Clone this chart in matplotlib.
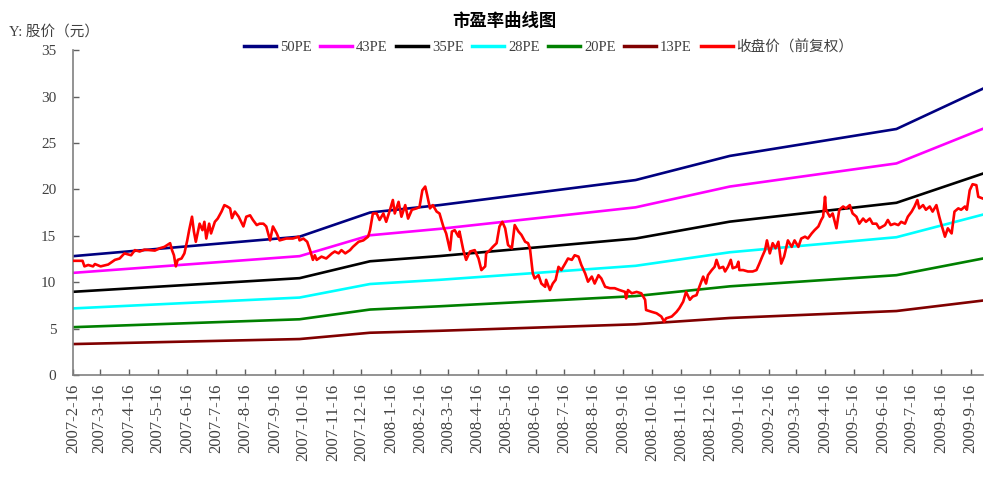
import matplotlib
matplotlib.use('Agg')
import matplotlib.pyplot as plt
import pandas as pd

# ---------------- data ----------------
start_date = '2007-02-16'

# closing price (forward adjusted): day offset from start_date, value
price_day = [0, 10, 12, 16, 21, 23, 29, 37, 44, 49, 54, 61, 65, 70, 75, 86, 91, 96, 102, 104,
             106, 108, 110, 114, 117, 120, 122, 125, 127, 129, 133, 136, 138, 140, 143, 145, 149, 152, 156, 159,
             162, 165, 167, 170, 174, 179, 182, 186, 189, 193, 196, 200, 203, 207, 210, 214, 217, 224, 231, 237,
             238, 242, 246, 249, 252, 254, 256, 261, 266, 272, 275, 279, 282, 286, 291, 294, 300, 305, 310, 312,
             315, 319, 322, 326, 329, 333, 336, 338, 342, 345, 349, 352, 356, 361, 364, 367, 370, 372, 375, 378,
             382, 385, 389, 392, 396, 398, 401, 405, 406, 410, 413, 417, 422, 426, 429, 433, 434, 438, 441, 445,
             448, 451, 454, 457, 461, 464, 468, 471, 475, 478, 480, 483, 485, 489, 492, 496, 497, 501, 504, 507,
             510, 513, 517, 520, 524, 527, 531, 534, 538, 541, 545, 548, 552, 555, 559, 564, 569, 574, 580, 581,
             583, 587, 592, 597, 601, 602, 608, 613, 618, 621, 623, 629, 634, 637, 641, 644, 648, 651, 655, 658,
             662, 665, 667, 671, 674, 676, 679, 683, 685, 688, 691, 693, 697, 699, 700, 704, 709, 714, 718, 721,
             724, 727, 729, 732, 735, 738, 741, 744, 747, 751, 755, 758, 762, 765, 769, 772, 776, 779, 783, 786,
             788, 790, 791, 795, 798, 802, 805, 809, 812, 816, 819, 823, 826, 830, 833, 837, 840, 844, 847, 853,
             856, 859, 863, 867, 870, 874, 877, 881, 884, 887, 889, 893, 896, 900, 903, 907, 910, 912, 916, 919,
             923, 926, 930, 933, 937, 939, 942, 945, 949, 951, 956]
price_close = [12.3, 12.3, 11.7, 11.85, 11.7, 11.95, 11.7, 11.9, 12.4, 12.55, 13.1, 12.9, 13.45, 13.3, 13.5, 13.4, 13.65, 13.8, 14.2, 13.45,
               12.9, 11.7, 12.4, 12.55, 13.1, 14.5, 15.6, 17.05, 15.45, 14.35, 16.3, 15.6, 16.5, 14.7, 16.3, 15.25, 16.5, 16.85, 17.6, 18.3,
               18.15, 17.95, 16.9, 17.6, 17.05, 16.0, 17.05, 17.2, 16.7, 16.15, 16.3, 16.3, 16.0, 14.5, 16.0, 15.25, 14.5, 14.7, 14.7, 14.9,
               14.5, 14.7, 14.35, 13.45, 12.4, 12.9, 12.4, 12.75, 12.55, 13.1, 13.3, 13.1, 13.45, 13.1, 13.45, 13.8, 14.35, 14.5, 14.9, 15.6,
               17.4, 17.4, 16.7, 17.4, 16.5, 17.8, 18.85, 17.4, 18.65, 17.05, 18.3, 16.85, 17.8, 17.95, 18.1, 19.9, 20.3, 19.4, 17.95, 18.3,
               17.6, 17.4, 16.0, 15.25, 13.45, 15.45, 15.6, 14.9, 15.45, 13.45, 12.4, 13.3, 13.45, 12.55, 11.3, 11.7, 13.1, 13.45, 13.8, 14.2,
               16.0, 16.5, 15.8, 14.0, 13.65, 16.15, 15.45, 15.1, 14.35, 14.2, 13.65, 10.95, 10.4, 10.75, 9.85, 9.5, 10.25, 9.15, 9.85, 10.25,
               11.65, 11.3, 12.0, 12.55, 12.4, 12.9, 12.75, 11.85, 10.95, 10.05, 10.6, 9.85, 10.75, 10.4, 9.5, 9.35, 9.35, 9.15, 8.95, 8.25,
               9.15, 8.8, 8.95, 8.8, 8.1, 7.0, 6.8, 6.65, 6.3, 5.75, 6.1, 6.3, 6.8, 7.2, 7.9, 8.95, 8.1, 8.45, 8.6, 9.5,
               10.6, 9.85, 10.75, 11.3, 11.65, 12.4, 11.5, 11.65, 11.15, 11.65, 12.4, 11.5, 11.65, 12.2, 11.3, 11.3, 11.15, 11.15, 11.3, 12.0,
               12.75, 13.45, 14.5, 13.1, 14.2, 13.65, 14.35, 12.0, 12.75, 14.5, 13.8, 14.5, 13.8, 14.7, 14.9, 14.7, 15.25, 15.6, 16.0, 16.7,
               17.05, 19.2, 17.8, 17.05, 17.4, 15.8, 17.8, 18.15, 17.95, 18.3, 17.4, 17.05, 16.3, 16.85, 16.5, 16.85, 16.3, 16.3, 15.8, 16.15,
               16.7, 16.15, 16.3, 16.15, 16.5, 16.3, 17.05, 17.6, 18.15, 18.85, 17.95, 18.3, 17.8, 18.15, 17.6, 18.3, 17.05, 16.3, 14.9, 15.8,
               15.25, 17.6, 17.95, 17.8, 18.15, 17.8, 19.9, 20.55, 20.45, 19.2, 19.0]

# PE band lines: break-point dates and values
pe_dates = ['2007-02-16', '2007-10-12', '2007-12-25', '2008-03-07',
            '2008-09-29', '2009-01-06', '2009-06-30', '2009-09-29']
pe50 = [12.8, 14.9, 17.5, 18.3, 21.0, 23.6, 26.5, 30.85]
pe43 = [11.0, 12.8, 15.05, 15.74, 18.06, 20.3, 22.79, 26.53]
pe35 = [8.96, 10.43, 12.25, 12.81, 14.7, 16.52, 18.55, 21.7]
pe28 = [7.17, 8.34, 9.8, 10.25, 11.76, 13.22, 14.84, 17.28]
pe20 = [5.15, 6.0, 7.05, 7.4, 8.5, 9.55, 10.75, 12.55]
pe13 = [3.33, 3.87, 4.55, 4.76, 5.46, 6.14, 6.89, 8.02]

series_names = ['50PE', '43PE', '35PE', '28PE', '20PE', '13PE', '收盘价（前复权）']
series_colors = ['#000080', '#FF00FF', '#000000', '#00FFFF', '#008000', '#800000', '#FF0000']

tick_dates = pd.date_range(start='2007-02-16', periods=32, freq=pd.DateOffset(months=1))
tick_labels = [f'{d.year}-{d.month}-{d.day}' for d in tick_dates]

title_text = '市盈率曲线图'
ylabel_text = 'Y: 股价（元）'

# ---------------- plot ----------------
fam = ['Liberation Serif', 'Noto Sans CJK SC', 'DejaVu Sans']
plt.rcParams['font.family'] = fam

fig = plt.figure(figsize=(10.03, 4.96), dpi=100)
ax = fig.add_axes([0.0728, 0.244, 0.9073, 0.655])

pe_x = pd.to_datetime(pe_dates)
price_x = pd.Timestamp(start_date) + pd.to_timedelta(price_day, unit='D')

for vals, name, col in zip([pe50, pe43, pe35, pe28, pe20, pe13], series_names[:6], series_colors[:6]):
    ax.plot(pe_x, vals, color=col, lw=1.9, label=name, solid_joinstyle='miter')
ax.plot(price_x, price_close, color=series_colors[6], lw=1.9, label=series_names[6], zorder=5)

ax.set_xlim(pd.Timestamp('2007-02-16'), price_x[-1])
ax.set_ylim(0, 35)
ax.set_yticks(range(0, 36, 5))
ax.set_xticks(tick_dates)
ax.set_xticklabels(tick_labels, rotation=90, fontsize=12, color='#404040')
ax.tick_params(axis='y', labelsize=11, labelcolor='#404040')
ax.tick_params(axis='both', direction='in', length=4, color='#606060', width=1)
ax.tick_params(axis='y', pad=12)
ax.tick_params(axis='x', pad=6)

for s in ['top', 'right']:
    ax.spines[s].set_visible(False)
for s in ['left', 'bottom']:
    ax.spines[s].set_color('#808080')
    ax.spines[s].set_linewidth(1.2)

fig.text(0.5025, 0.958, title_text, ha='center', va='center', fontsize=12.5,
         fontweight='bold', family=['Noto Sans CJK SC'])
fig.text(0.009, 0.936, ylabel_text, ha='left', va='center', fontsize=10.5, color='#404040')

leg = ax.legend(loc='center', bbox_to_anchor=(0.547, 0.905), bbox_transform=fig.transFigure,
                ncol=7, frameon=False, fontsize=10.5, handlelength=2.2, handletextpad=0.25,
                columnspacing=0.6, borderpad=0)
for t in leg.get_texts():
    t.set_color('#404040')
for l in leg.get_lines():
    l.set_linewidth(2.5)

fig.savefig('out.png', dpi=100)
